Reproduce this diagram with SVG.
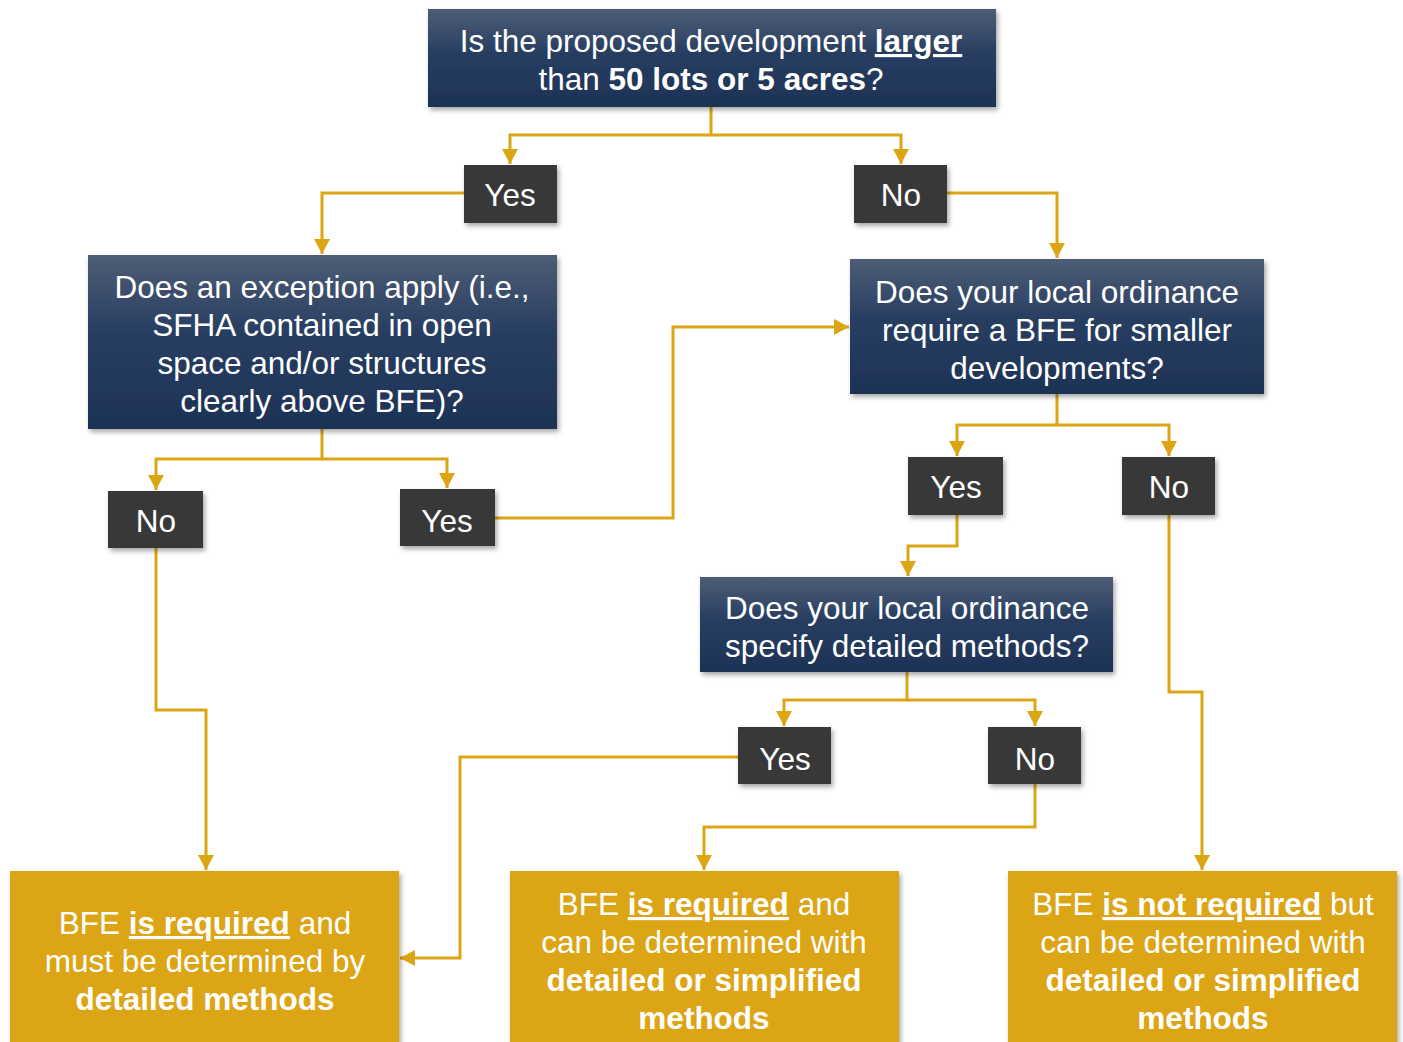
<svg xmlns="http://www.w3.org/2000/svg" width="1403" height="1042" viewBox="0 0 1403 1042">
<defs>
<linearGradient id="navy" x1="0" y1="0" x2="0" y2="1">
<stop offset="0" stop-color="#4e5d75"/>
<stop offset="0.45" stop-color="#273e61"/>
<stop offset="1" stop-color="#1d3355"/>
</linearGradient>
<filter id="sh" x="-10%" y="-10%" width="125%" height="130%">
<feDropShadow dx="2" dy="3" stdDeviation="2.5" flood-color="#000" flood-opacity="0.35"/>
</filter>
<marker id="ah" markerUnits="userSpaceOnUse" markerWidth="18" markerHeight="18" refX="15" refY="8" orient="auto">
<path d="M0,0 L15,8 L0,16 Z" fill="#dba514"/>
</marker>
<style>
.q{fill:url(#navy);filter:url(#sh)}
.l{fill:#383838;filter:url(#sh)}
.g{fill:#dca514;filter:url(#sh)}
text{font-family:"Liberation Sans",Arial,sans-serif;font-size:31.5px;fill:#fff;text-anchor:middle}
.c{fill:none;stroke:#dba514;stroke-width:3;stroke-linejoin:miter}
.b{font-weight:bold}
.u{text-decoration:underline}
</style>
</defs>
<g id="connectors">
<path class="c" d="M711,107 V135 H510 V164" marker-end="url(#ah)"/>
<path class="c" d="M711,135 H901 V164" marker-end="url(#ah)"/>
<path class="c" d="M464,193 H322 V254" marker-end="url(#ah)"/>
<path class="c" d="M947,193 H1057 V258" marker-end="url(#ah)"/>
<path class="c" d="M322,429 V459 H156 V490" marker-end="url(#ah)"/>
<path class="c" d="M322,459 H447 V488" marker-end="url(#ah)"/>
<path class="c" d="M495,518 H673 V327 H849" marker-end="url(#ah)"/>
<path class="c" d="M1057,394 V425 H957 V456" marker-end="url(#ah)"/>
<path class="c" d="M1057,425 H1169 V456" marker-end="url(#ah)"/>
<path class="c" d="M957,515 V546 H908 V576" marker-end="url(#ah)"/>
<path class="c" d="M907,672 V700 H784 V726" marker-end="url(#ah)"/>
<path class="c" d="M907,700 H1035 V726" marker-end="url(#ah)"/>
<path class="c" d="M738,757 H460 V958 H400" marker-end="url(#ah)"/>
<path class="c" d="M1035,784 V827 H704 V870" marker-end="url(#ah)"/>
<path class="c" d="M1169,515 V692 H1202 V870" marker-end="url(#ah)"/>
<path class="c" d="M156,548 V710 H206 V870" marker-end="url(#ah)"/>
</g>
<g id="q-larger">
<rect class="q" x="428" y="9" width="568" height="98"/>
<text x="711" y="52">Is the proposed development <tspan class="b u">larger</tspan></text>
<text x="711" y="90">than <tspan class="b">50 lots or 5 acres</tspan>?</text>
</g>
<g id="yes1"><rect class="l" x="464" y="165" width="93" height="58"/><text x="510" y="206">Yes</text></g>
<g id="no1"><rect class="l" x="854" y="165" width="93" height="58"/><text x="901" y="206">No</text></g>
<g id="q-exception">
<rect class="q" x="88" y="255" width="469" height="174"/>
<text x="322" y="298">Does an exception apply (i.e.,</text>
<text x="322" y="336">SFHA contained in open</text>
<text x="322" y="374">space and/or structures</text>
<text x="322" y="412">clearly above BFE)?</text>
</g>
<g id="no2"><rect class="l" x="108" y="491" width="95" height="57"/><text x="156" y="532">No</text></g>
<g id="yes2"><rect class="l" x="400" y="489" width="95" height="57"/><text x="447" y="532">Yes</text></g>
<g id="q-ordinance">
<rect class="q" x="850" y="259" width="414" height="135"/>
<text x="1057" y="303">Does your local ordinance</text>
<text x="1057" y="341">require a BFE for smaller</text>
<text x="1057" y="379">developments?</text>
</g>
<g id="yes3"><rect class="l" x="908" y="457" width="95" height="58"/><text x="956" y="498">Yes</text></g>
<g id="no3"><rect class="l" x="1122" y="457" width="93" height="58"/><text x="1169" y="498">No</text></g>
<g id="q-methods">
<rect class="q" x="700" y="577" width="413" height="95"/>
<text x="907" y="619">Does your local ordinance</text>
<text x="907" y="657">specify detailed methods?</text>
</g>
<g id="yes4"><rect class="l" x="738" y="727" width="93" height="57"/><text x="785" y="770">Yes</text></g>
<g id="no4"><rect class="l" x="988" y="727" width="93" height="57"/><text x="1035" y="770">No</text></g>
<g id="r-detailed">
<rect class="g" x="10" y="871" width="389" height="180"/>
<text x="205" y="934">BFE <tspan class="b u">is required</tspan> and</text>
<text x="205" y="972">must be determined by</text>
<text x="205" y="1010" class="b">detailed methods</text>
</g>
<g id="r-required">
<rect class="g" x="510" y="871" width="389" height="180"/>
<text x="704" y="915">BFE <tspan class="b u">is required</tspan> and</text>
<text x="704" y="953">can be determined with</text>
<text x="704" y="991" class="b">detailed or simplified</text>
<text x="704" y="1029" class="b">methods</text>
</g>
<g id="r-notrequired">
<rect class="g" x="1008" y="871" width="389" height="180"/>
<text x="1203" y="915">BFE <tspan class="b u">is not required</tspan> but</text>
<text x="1203" y="953">can be determined with</text>
<text x="1203" y="991" class="b">detailed or simplified</text>
<text x="1203" y="1029" class="b">methods</text>
</g>
</svg>
